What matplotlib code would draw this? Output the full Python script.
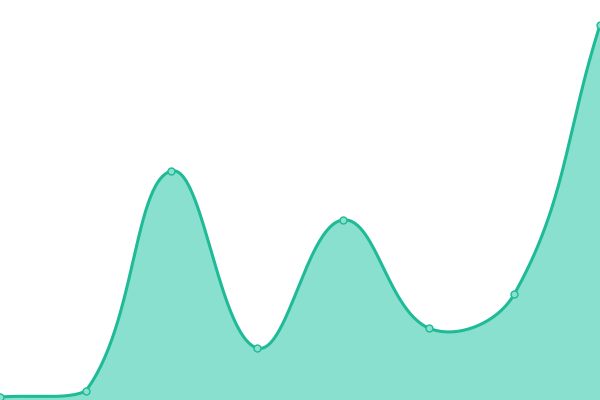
import numpy as np
import matplotlib
matplotlib.use("Agg")
import matplotlib.pyplot as plt

x_vals = [0, 1, 2, 3, 4, 5, 6, 7]
y_vals = [3, 9, 229, 52, 180, 72, 106, 375]

W, H = 600, 400
XMAX, YMAX = 7, 400
TENSION = 0.4

def spline_path(x, y, n=60):
    # Chart.js-style spline (computed in pixel space), control points capped to area
    px = np.asarray(x, float) * W / XMAX
    py = np.asarray(y, float) * H / YMAX
    N = len(px)
    cps = []
    for i in range(N):
        pi = max(i - 1, 0); ni = min(i + 1, N - 1)
        d01 = np.hypot(px[i] - px[pi], py[i] - py[pi])
        d12 = np.hypot(px[ni] - px[i], py[ni] - py[i])
        tot = d01 + d12
        s01 = d01 / tot if tot else 0
        s12 = d12 / tot if tot else 0
        fa, fb = TENSION * s01, TENSION * s12
        dx, dy = px[ni] - px[pi], py[ni] - py[pi]
        prev_cp = [px[i] - fa * dx, py[i] - fa * dy]
        next_cp = [px[i] + fb * dx, py[i] + fb * dy]
        for cp in (prev_cp, next_cp):
            cp[0] = min(max(cp[0], 0), W)
            cp[1] = min(max(cp[1], 0), H)
        cps.append((prev_cp, next_cp))
    xs, ys = [], []
    for i in range(N - 1):
        t = np.linspace(0, 1, n, endpoint=(i == N - 2))[:, None]
        p0 = np.array([px[i], py[i]]); p1 = np.array(cps[i][1])
        p2 = np.array(cps[i + 1][0]); p3 = np.array([px[i + 1], py[i + 1]])
        b = ((1 - t) ** 3) * p0 + 3 * ((1 - t) ** 2) * t * p1 + 3 * (1 - t) * t ** 2 * p2 + t ** 3 * p3
        xs.append(b[:, 0]); ys.append(b[:, 1])
    xs = np.concatenate(xs) * XMAX / W
    ys = np.concatenate(ys) * YMAX / H
    return xs, ys

fig = plt.figure(figsize=(6, 4), dpi=100)
ax = fig.add_axes([0, 0, 1, 1])
xs, ys = spline_path(x_vals, y_vals)
ax.fill_between(xs, 0, ys, color="#8ae0cf", lw=0)
ax.plot(xs, ys, color="#1fba96", lw=2.2, solid_capstyle="round")
ax.plot(x_vals, y_vals, "o", ms=5, mfc="#8ae0cf", mec="#1fba96", mew=1, clip_on=False)
ax.set_xlim(0, XMAX)
ax.set_ylim(0, YMAX)
ax.axis("off")
fig.savefig("out.png", dpi=100)
